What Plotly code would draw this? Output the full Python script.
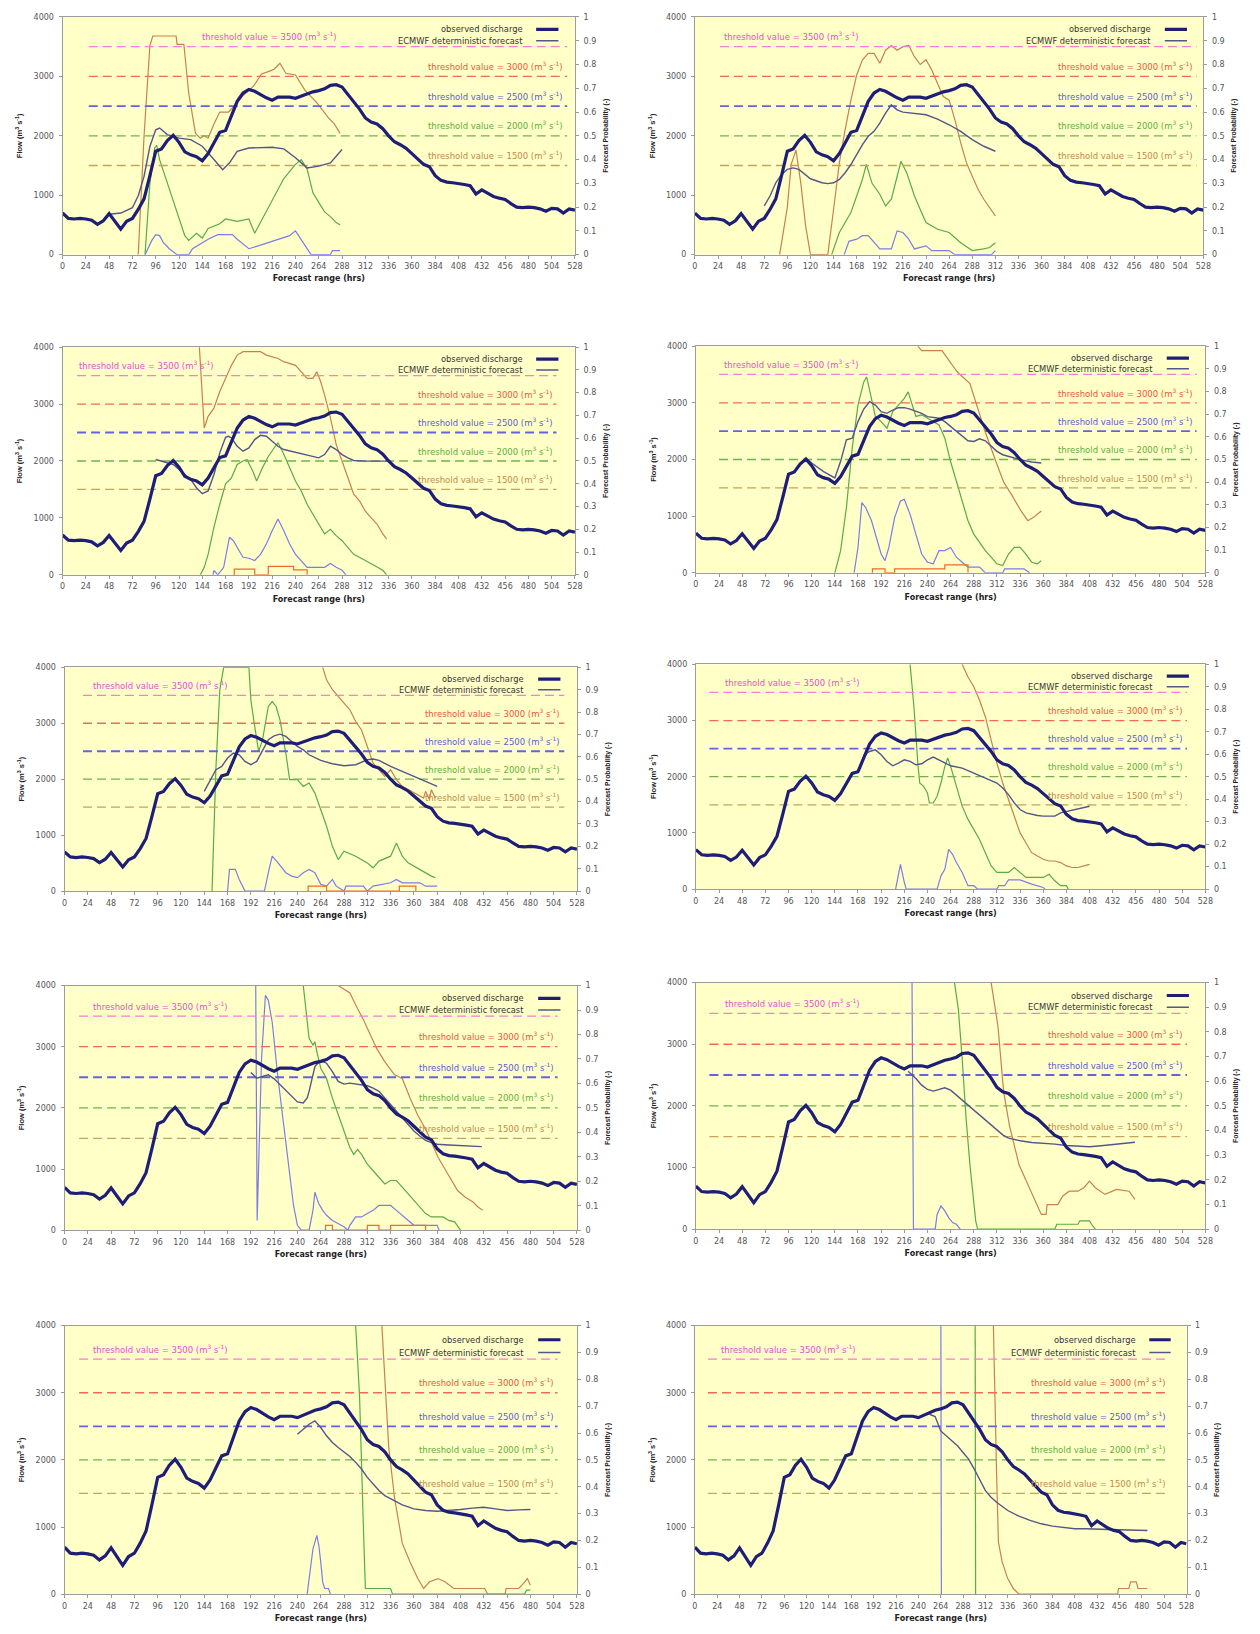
import plotly.graph_objects as go

W, H = 1260, 1634          # target page size
PAGE_MARGIN = 8            # default body margin of the html page
FW, FH = W - 2 * PAGE_MARGIN, H - 2 * PAGE_MARGIN
FONT = "DejaVu Sans, Verdana, sans-serif"
FONT_NARROW = "Liberation Sans, Arial, sans-serif"

# ---------------- axis ticks / thresholds ----------------
X_TICKS = [0, 24, 48, 72, 96, 120, 144, 168, 192, 216, 240, 264, 288, 312, 336,
           360, 384, 408, 432, 456, 480, 504, 528]
FLOW_TICKS = [0, 1000, 2000, 3000, 4000]
PROB_TICKS = [0, 0.1, 0.2, 0.3, 0.4, 0.5, 0.6, 0.7, 0.8, 0.9, 1.0]
PROB_TICK_TEXT = ["0", "0.1", "0.2", "0.3", "0.4", "0.5", "0.6", "0.7", "0.8", "0.9", "1"]
THRESHOLDS = [3500, 3000, 2500, 2000, 1500]

# ---------------- observed discharge (every 6 h) ----------------
OBS_T = [0, 6, 12, 18, 24, 30, 36, 42, 48, 54, 60, 66, 72, 78, 84, 90, 96, 102, 108, 114,
         120, 126, 132, 138, 144, 150, 156, 162, 168, 174, 180, 186, 192, 198, 204, 210,
         216, 222, 228, 234, 240, 246, 252, 258, 264, 270, 276, 282, 288, 294, 300, 306,
         312, 318, 324, 330, 336, 342, 348, 354, 360, 366, 372, 378, 384, 390, 396, 402,
         408, 414, 420, 426, 432, 438, 444, 450, 456, 462, 468, 474, 480, 486, 492, 498,
         504, 510, 516, 522, 528]
OBS_Q = [700, 610, 600, 610, 600, 580, 510, 570, 690, 560,
         430, 560, 610, 760, 940, 1330, 1740, 1780, 1920, 2010,
         1890, 1730, 1680, 1650, 1580, 1700, 1870, 2060, 2090, 2320,
         2580, 2720, 2780, 2750, 2690, 2640, 2600, 2650, 2650, 2650,
         2630, 2670, 2710, 2740, 2760, 2790, 2850, 2860, 2820, 2700,
         2560, 2450, 2300, 2230, 2200, 2120, 2000, 1900, 1850, 1790,
         1700, 1610, 1520, 1480, 1330, 1250, 1220, 1210, 1200, 1180,
         1160, 1020, 1090, 1030, 980, 950, 930, 860, 800, 790,
         800, 790, 770, 730, 780, 770, 700, 770, 750]

# ---------------- panel 1 ----------------
DET_T_1 = [48, 60, 72, 78, 84, 90, 96, 100, 108, 120, 132, 144, 156, 165, 172, 180, 192, 204, 216, 228, 240, 252, 264, 276, 282, 288]
DET_Q_1 = [680, 700, 790, 990, 1320, 1820, 2100, 2130, 2020, 1960, 1935, 1825, 1600, 1430, 1545, 1740, 1795, 1805, 1807, 1780, 1630, 1460, 1490, 1545, 1655, 1770]
P1500_T_1 = [78, 84, 90, 93, 117, 118, 125, 130, 137, 142, 146, 150, 156, 162, 171, 185, 197, 205, 212, 218, 224, 230, 240, 250, 262, 274, 280, 286]
P1500_1 = [0, 0.5, 0.88, 0.92, 0.92, 0.885, 0.885, 0.68, 0.51, 0.49, 0.5, 0.49, 0.55, 0.6, 0.6, 0.665, 0.71, 0.76, 0.77, 0.78, 0.805, 0.763, 0.756, 0.69, 0.64, 0.575, 0.55, 0.51]
P2000_T_1 = [85, 90, 95, 97, 100, 108, 114, 120, 126, 130, 138, 144, 150, 162, 168, 180, 192, 198, 204, 216, 228, 240, 246, 252, 258, 264, 270, 276, 282, 286]
P2000_1 = [0, 0.3, 0.45, 0.46, 0.4, 0.3, 0.22, 0.15, 0.08, 0.06, 0.09, 0.07, 0.11, 0.13, 0.15, 0.14, 0.15, 0.09, 0.135, 0.23, 0.32, 0.38, 0.4, 0.36, 0.26, 0.22, 0.18, 0.16, 0.135, 0.125]
P2500_T_1 = [85, 92, 96, 100, 104, 110, 118, 130, 134, 140, 150, 160, 175, 180, 192, 204, 216, 228, 234, 240, 246, 252, 256, 276, 278, 286]
P2500_1 = [0, 0.06, 0.084, 0.08, 0.05, 0.025, 0, 0, 0.025, 0.04, 0.065, 0.084, 0.084, 0.065, 0.025, 0.04, 0.056, 0.073, 0.08, 0.1, 0.065, 0.025, 0, 0, 0.017, 0.017]
P3000_T_1 = []
P3000_1 = []

# ---------------- panel 2 ----------------
DET_T_2 = [72, 78, 84, 90, 96, 102, 108, 114, 120, 132, 138, 144, 150, 156, 162, 168, 174, 180, 186, 192, 198, 204, 210, 216, 228, 240, 252, 264, 276, 288, 300, 312]
DET_Q_2 = [820, 987, 1210, 1350, 1434, 1460, 1434, 1350, 1277, 1210, 1195, 1210, 1266, 1378, 1517, 1684, 1852, 1991, 2075, 2214, 2382, 2521, 2437, 2398, 2382, 2354, 2281, 2186, 2075, 1935, 1824, 1740]
P1500_T_2 = [88, 96, 100, 105, 110, 115, 120, 138, 144, 150, 156, 162, 168, 174, 180, 186, 192, 198, 204, 210, 216, 222, 228, 234, 240, 246, 252, 258, 264, 270, 276, 282, 288, 294, 300, 306, 312]
P1500_2 = [0, 0.2, 0.38, 0.44, 0.3, 0.12, 0, 0, 0.19, 0.386, 0.526, 0.65, 0.756, 0.82, 0.847, 0.847, 0.805, 0.86, 0.88, 0.86, 0.875, 0.88, 0.833, 0.8, 0.82, 0.777, 0.72, 0.665, 0.65, 0.567, 0.47, 0.386, 0.33, 0.275, 0.233, 0.198, 0.163]
P2000_T_2 = [142, 150, 156, 162, 168, 174, 178, 184, 192, 198, 204, 210, 214, 220, 228, 234, 240, 252, 264, 276, 288, 300, 306, 312]
P2000_2 = [0, 0.093, 0.135, 0.177, 0.247, 0.317, 0.38, 0.3, 0.254, 0.205, 0.233, 0.33, 0.393, 0.344, 0.247, 0.19, 0.135, 0.107, 0.093, 0.05, 0.017, 0.024, 0.03, 0.05]
P2500_T_2 = [155, 160, 168, 174, 180, 186, 192, 204, 210, 216, 222, 228, 240, 246, 264, 270, 308, 312]
P2500_2 = [0, 0.056, 0.065, 0.08, 0.08, 0.052, 0.024, 0.024, 0.1, 0.093, 0.065, 0.024, 0.037, 0.017, 0.017, 0, 0, 0.017]
P3000_T_2 = []
P3000_2 = []

# ---------------- panel 3 ----------------
DET_T_3 = [96, 102, 108, 114, 120, 126, 132, 138, 144, 150, 156, 162, 168, 171, 174, 180, 186, 192, 198, 204, 210, 216, 222, 228, 240, 252, 264, 270, 276, 282, 288, 294, 300, 312, 324, 336]
DET_Q_3 = [2026, 1997, 1968, 1939, 1851, 1764, 1677, 1531, 1426, 1473, 1764, 2143, 2416, 2434, 2405, 2259, 2172, 2230, 2376, 2451, 2434, 2346, 2259, 2201, 2154, 2113, 2055, 2113, 2259, 2201, 2113, 2055, 2009, 1997, 1997, 1997]
P1500_T_3 = [141, 146, 150, 156, 162, 168, 174, 180, 186, 204, 210, 222, 228, 240, 252, 258, 262, 266, 270, 276, 282, 288, 294, 300, 306, 312, 318, 324, 330, 334]
P1500_3 = [1.0, 0.645, 0.696, 0.732, 0.805, 0.863, 0.92, 0.965, 0.98, 0.98, 0.965, 0.95, 0.936, 0.92, 0.863, 0.863, 0.892, 0.848, 0.79, 0.69, 0.572, 0.5, 0.426, 0.354, 0.325, 0.28, 0.25, 0.223, 0.18, 0.157]
P2000_T_3 = [142, 146, 150, 156, 162, 168, 174, 180, 186, 190, 196, 200, 206, 212, 218, 222, 228, 234, 240, 246, 252, 258, 264, 270, 276, 282, 288, 294, 300, 312, 324, 330, 334]
P2000_3 = [0, 0.033, 0.09, 0.21, 0.31, 0.4, 0.426, 0.485, 0.5, 0.507, 0.456, 0.412, 0.47, 0.52, 0.557, 0.58, 0.53, 0.47, 0.412, 0.368, 0.31, 0.266, 0.223, 0.18, 0.2, 0.172, 0.15, 0.12, 0.09, 0.063, 0.033, 0.02, 0]
P2500_T_3 = [155, 156, 160, 166, 172, 176, 182, 186, 192, 198, 204, 210, 216, 222, 228, 234, 240, 246, 252, 270, 276, 282, 288, 292]
P2500_3 = [0, 0.02, 0, 0.033, 0.165, 0.15, 0.106, 0.077, 0.073, 0.063, 0.09, 0.135, 0.194, 0.245, 0.194, 0.135, 0.09, 0.063, 0.033, 0.033, 0.05, 0.033, 0.02, 0]
P3000_T_3 = [176, 177, 198, 212, 238, 252]
P3000_3 = [0, 0.025, 0, 0.037, 0.022, 0]

# ---------------- panel 4 ----------------
DET_T_4 = [114, 120, 132, 144, 150, 156, 162, 168, 174, 180, 186, 192, 198, 204, 210, 216, 222, 228, 234, 240, 252, 258, 264, 270, 276, 282, 288, 294, 300, 306, 312, 318, 324, 336, 348, 358]
DET_Q_4 = [2026, 1938, 1792, 1676, 1968, 2347, 2376, 2668, 2890, 3019, 2960, 2844, 2814, 2873, 2914, 2914, 2890, 2855, 2814, 2756, 2727, 2668, 2581, 2493, 2406, 2330, 2318, 2365, 2330, 2230, 2143, 2084, 2055, 1997, 1956, 1938]
P1500_T_4 = [230, 234, 255, 264, 271, 284, 290, 300, 311, 319, 327, 337, 344, 350, 358]
P1500_4 = [1.0, 0.98, 0.98, 0.93, 0.886, 0.835, 0.755, 0.62, 0.49, 0.4, 0.346, 0.273, 0.23, 0.245, 0.273]
P2000_T_4 = [144, 150, 156, 162, 168, 174, 177, 182, 186, 192, 198, 204, 210, 216, 220, 224, 228, 234, 240, 246, 252, 258, 264, 270, 276, 282, 288, 294, 300, 306, 312, 318, 324, 330, 336, 342, 348, 354, 358]
P2000_4 = [0, 0.098, 0.288, 0.55, 0.74, 0.842, 0.864, 0.77, 0.69, 0.667, 0.638, 0.711, 0.74, 0.77, 0.798, 0.74, 0.69, 0.697, 0.682, 0.667, 0.652, 0.594, 0.49, 0.404, 0.317, 0.23, 0.171, 0.134, 0.098, 0.069, 0.04, 0.032, 0.083, 0.112, 0.112, 0.083, 0.047, 0.04, 0.054]
P2500_T_4 = [164, 168, 172, 176, 182, 186, 192, 196, 200, 206, 212, 216, 222, 228, 234, 240, 246, 252, 258, 264, 270, 276, 282, 294, 300, 318, 320, 340, 346]
P2500_4 = [0, 0.112, 0.31, 0.288, 0.23, 0.171, 0.083, 0.054, 0.112, 0.244, 0.317, 0.324, 0.258, 0.171, 0.083, 0.047, 0.04, 0.098, 0.098, 0.112, 0.069, 0.047, 0.025, 0.025, 0, 0, 0.018, 0.018, 0]
P3000_T_4 = [182, 183, 196, 206, 258, 282]
P3000_4 = [0, 0.018, 0, 0.018, 0.035, 0]

# ---------------- panel 5 ----------------
DET_T_5 = [144, 150, 156, 162, 168, 174, 180, 186, 192, 198, 204, 210, 216, 222, 228, 234, 240, 246, 252, 264, 276, 288, 300, 312, 318, 324, 336, 348, 360, 372, 384]
DET_Q_5 = [1783, 1991, 2170, 2229, 2378, 2467, 2437, 2318, 2259, 2318, 2526, 2705, 2776, 2806, 2764, 2675, 2586, 2526, 2437, 2336, 2277, 2241, 2259, 2348, 2360, 2336, 2229, 2140, 2051, 1962, 1872]
P1500_T_5 = [266, 270, 276, 282, 288, 294, 300, 306, 312, 318, 324, 330, 336, 342, 348, 354, 360, 366, 370, 372, 376, 378, 382]
P1500_5 = [1.0, 0.944, 0.9, 0.87, 0.84, 0.81, 0.758, 0.72, 0.646, 0.572, 0.542, 0.513, 0.542, 0.498, 0.468, 0.453, 0.438, 0.424, 0.416, 0.446, 0.409, 0.453, 0.416]
P2000_T_5 = [152, 156, 160, 164, 190, 192, 196, 200, 204, 210, 214, 218, 222, 228, 232, 240, 246, 252, 258, 264, 270, 276, 282, 288, 300, 312, 318, 324, 336, 342, 348, 354, 360, 366, 372, 378, 382]
P2000_5 = [0, 0.55, 0.9, 1.0, 1.0, 0.854, 0.735, 0.624, 0.676, 0.825, 0.847, 0.825, 0.765, 0.617, 0.498, 0.498, 0.468, 0.483, 0.438, 0.364, 0.29, 0.2, 0.141, 0.178, 0.156, 0.126, 0.104, 0.134, 0.156, 0.215, 0.156, 0.126, 0.111, 0.097, 0.082, 0.067, 0.06]
P2500_T_5 = [168, 170, 176, 180, 186, 206, 210, 214, 220, 228, 234, 240, 246, 252, 258, 264, 270, 276, 280, 288, 290, 308, 312, 318, 336, 342, 348, 366, 372, 384]
P2500_5 = [0, 0.097, 0.097, 0.052, 0, 0, 0.082, 0.156, 0.126, 0.082, 0.067, 0.06, 0.082, 0.097, 0.082, 0.03, 0.022, 0.052, 0.022, 0, 0.022, 0.022, 0, 0.022, 0.037, 0.052, 0.037, 0.037, 0.022, 0.022]
P3000_T_5 = [250, 251, 270, 345, 362]
P3000_5 = [0, 0.022, 0, 0.022, 0]

# ---------------- panel 6 ----------------
DET_T_6 = [174, 180, 186, 192, 198, 204, 210, 216, 222, 228, 234, 240, 246, 252, 258, 264, 276, 288, 300, 312, 318, 324, 330, 336, 342, 348, 354, 360, 366, 372, 378, 390, 402, 408]
DET_Q_6 = [2390, 2449, 2478, 2390, 2272, 2195, 2242, 2301, 2272, 2213, 2230, 2301, 2349, 2301, 2242, 2195, 2154, 2065, 1977, 1888, 1800, 1682, 1534, 1416, 1357, 1328, 1310, 1298, 1298, 1298, 1357, 1404, 1446, 1475]
P1500_T_6 = [276, 282, 288, 294, 300, 306, 312, 318, 324, 330, 336, 342, 348, 354, 360, 366, 372, 378, 384, 390, 396, 402, 408]
P1500_6 = [1.0, 0.944, 0.9, 0.84, 0.767, 0.664, 0.56, 0.472, 0.398, 0.324, 0.25, 0.206, 0.162, 0.147, 0.133, 0.125, 0.125, 0.118, 0.103, 0.096, 0.096, 0.103, 0.11]
P2000_T_6 = [222, 226, 230, 232, 236, 240, 242, 246, 250, 254, 258, 261, 264, 270, 276, 282, 288, 294, 300, 306, 312, 324, 330, 336, 342, 360, 366, 372, 378, 384, 386]
P2000_6 = [1.0, 0.81, 0.56, 0.472, 0.457, 0.428, 0.383, 0.383, 0.413, 0.472, 0.546, 0.583, 0.546, 0.457, 0.369, 0.31, 0.265, 0.221, 0.162, 0.103, 0.074, 0.074, 0.096, 0.074, 0.052, 0.052, 0.066, 0.037, 0.015, 0.015, 0]
P2500_T_6 = [207, 210, 212, 216, 218, 250, 254, 258, 262, 266, 270, 276, 282, 288, 292, 312, 314, 320, 324, 336, 348, 360, 362]
P2500_6 = [0, 0.074, 0.11, 0.03, 0, 0, 0.059, 0.088, 0.177, 0.155, 0.118, 0.074, 0.015, 0.015, 0, 0, 0.015, 0.015, 0.041, 0.041, 0.022, 0.007, 0]
P3000_T_6 = []
P3000_6 = []

# ---------------- panel 7 ----------------
DET_T_7 = [192, 198, 204, 210, 216, 222, 228, 234, 240, 246, 250, 252, 256, 258, 262, 266, 270, 276, 282, 288, 294, 300, 306, 312, 318, 324, 330, 336, 342, 348, 354, 360, 366, 372, 378, 384, 396, 408, 420, 430]
DET_Q_7 = [2578, 2486, 2513, 2540, 2475, 2378, 2281, 2189, 2097, 2081, 2162, 2270, 2540, 2675, 2746, 2757, 2730, 2594, 2432, 2389, 2405, 2389, 2378, 2362, 2324, 2270, 2162, 2054, 1946, 1838, 1730, 1621, 1540, 1470, 1432, 1405, 1394, 1384, 1373, 1367]
P1500_T_7 = [282, 294, 302, 308, 322, 330, 340, 348, 356, 364, 373, 379, 385, 393, 405, 413, 421, 426, 431]
P1500_7 = [1.0, 0.97, 0.905, 0.86, 0.74, 0.689, 0.635, 0.62, 0.54, 0.47, 0.405, 0.35, 0.297, 0.243, 0.162, 0.135, 0.115, 0.095, 0.081]
P2000_T_7 = [246, 250, 252, 256, 258, 260, 264, 270, 276, 282, 288, 294, 298, 302, 306, 312, 318, 324, 330, 336, 342, 348, 354, 360, 366, 372, 378, 390, 396, 402, 408]
P2000_7 = [1.0, 0.838, 0.784, 0.757, 0.77, 0.73, 0.662, 0.62, 0.54, 0.473, 0.405, 0.338, 0.31, 0.33, 0.31, 0.27, 0.243, 0.216, 0.189, 0.203, 0.203, 0.176, 0.149, 0.122, 0.095, 0.068, 0.054, 0.054, 0.04, 0.034, 0]
P2500_T_7 = [197, 198.5, 203, 207, 210, 214, 220, 226, 232, 236, 240, 244, 252, 256, 258, 262, 266, 270, 276, 282, 288, 292, 294, 300, 306, 312, 318, 324, 336, 342, 348, 354, 360, 384, 386]
P2500_7 = [1.0, 0.04, 0.7, 0.96, 0.94, 0.85, 0.62, 0.42, 0.22, 0.1, 0.02, 0, 0, 0.081, 0.155, 0.108, 0.081, 0.061, 0.04, 0.027, 0.014, 0, 0.02, 0.054, 0.054, 0.068, 0.081, 0.101, 0.101, 0.081, 0.061, 0.04, 0.02, 0.02, 0]
P3000_T_7 = [268, 269, 276, 312, 324, 336, 372]
P3000_7 = [0, 0.02, 0, 0.02, 0, 0.02, 0]

# ---------------- panel 8 ----------------
DET_T_8 = [220, 228, 234, 240, 246, 252, 258, 264, 270, 276, 282, 288, 294, 300, 306, 312, 318, 324, 330, 336, 348, 360, 372, 384, 396, 408, 420, 432, 444, 455]
DET_Q_8 = [2560, 2443, 2336, 2266, 2239, 2271, 2293, 2255, 2174, 2094, 2013, 1933, 1852, 1772, 1691, 1611, 1530, 1476, 1450, 1434, 1407, 1396, 1380, 1358, 1342, 1337, 1353, 1369, 1396, 1410]
P1500_T_8 = [306, 313, 319, 325, 335, 350, 358, 363, 364, 375, 380, 387, 396, 402, 408, 414, 424, 436, 449, 455]
P1500_8 = [1.0, 0.825, 0.557, 0.42, 0.26, 0.127, 0.06, 0.06, 0.1, 0.1, 0.134, 0.154, 0.154, 0.168, 0.195, 0.168, 0.141, 0.161, 0.154, 0.121]
P2000_T_8 = [268, 272, 276, 280, 284, 288, 290, 292, 372, 374, 396, 398, 408, 410, 414]
P2000_8 = [1.0, 0.893, 0.691, 0.45, 0.262, 0.1, 0.034, 0, 0, 0.02, 0.02, 0.034, 0.034, 0.02, 0]
P2500_T_8 = [224, 225.5, 248, 250, 254, 258, 262, 266, 270, 274]
P2500_8 = [1.0, 0, 0, 0.06, 0.094, 0.074, 0.047, 0.027, 0.02, 0]
P3000_T_8 = []
P3000_8 = []

# ---------------- panel 9 ----------------
DET_T_9 = [240, 246, 252, 258, 264, 270, 276, 282, 288, 294, 300, 306, 312, 318, 324, 330, 336, 342, 348, 360, 372, 384, 396, 408, 420, 432, 444, 456, 468, 480]
DET_Q_9 = [2383, 2457, 2531, 2581, 2482, 2359, 2259, 2185, 2121, 2051, 1963, 1864, 1740, 1641, 1543, 1468, 1419, 1369, 1330, 1271, 1246, 1236, 1246, 1261, 1281, 1295, 1271, 1246, 1256, 1261]
P1500_T_9 = [327, 334, 340, 348, 356, 364, 370, 376, 385, 392, 401, 433, 436, 454, 455, 468, 473, 477, 480]
P1500_9 = [1.0, 0.55, 0.36, 0.19, 0.12, 0.058, 0.021, 0.046, 0.058, 0.046, 0.021, 0.021, 0, 0, 0.021, 0.021, 0.04, 0.058, 0.033]
P2000_T_9 = [300, 304, 308, 310, 312, 336, 338, 474, 476, 480]
P2000_9 = [1.0, 0.738, 0.244, 0.021, 0.021, 0.021, 0, 0, 0.015, 0.015]
P2500_T_9 = [250, 254, 256, 260, 262, 264, 266, 268, 272, 274]
P2500_9 = [0, 0.12, 0.169, 0.219, 0.182, 0.12, 0.046, 0.021, 0.021, 0]
P3000_T_9 = []
P3000_9 = []

# ---------------- panel 10 ----------------
DET_T_10 = [252, 258, 264, 270, 276, 282, 288, 294, 300, 306, 312, 318, 324, 336, 348, 360, 372, 384, 396, 408, 420, 432, 444, 456, 468, 480, 486]
DET_Q_10 = [2680, 2645, 2432, 2358, 2284, 2210, 2111, 2012, 1864, 1691, 1542, 1444, 1369, 1246, 1162, 1098, 1048, 1014, 989, 974, 974, 974, 964, 959, 959, 954, 949]
P1500_T_10 = [320.6, 322, 324, 326, 330, 336, 342, 348, 454, 455, 466, 468, 474, 476, 486]
P1500_10 = [1.0, 0.75, 0.45, 0.194, 0.12, 0.058, 0.021, 0, 0, 0.021, 0.021, 0.046, 0.046, 0.021, 0.021]
P2000_T_10 = [301, 301.5]
P2000_10 = [1.0, 0]
P2500_T_10 = [264.2, 264.7]
P2500_10 = [1.0, 0]
P3000_T_10 = []
P3000_10 = []

DET_T = [DET_T_1, DET_T_2, DET_T_3, DET_T_4, DET_T_5, DET_T_6, DET_T_7, DET_T_8, DET_T_9, DET_T_10]
DET_Q = [DET_Q_1, DET_Q_2, DET_Q_3, DET_Q_4, DET_Q_5, DET_Q_6, DET_Q_7, DET_Q_8, DET_Q_9, DET_Q_10]
P1500_T = [P1500_T_1, P1500_T_2, P1500_T_3, P1500_T_4, P1500_T_5, P1500_T_6, P1500_T_7, P1500_T_8, P1500_T_9, P1500_T_10]
P1500 = [P1500_1, P1500_2, P1500_3, P1500_4, P1500_5, P1500_6, P1500_7, P1500_8, P1500_9, P1500_10]
P2000_T = [P2000_T_1, P2000_T_2, P2000_T_3, P2000_T_4, P2000_T_5, P2000_T_6, P2000_T_7, P2000_T_8, P2000_T_9, P2000_T_10]
P2000 = [P2000_1, P2000_2, P2000_3, P2000_4, P2000_5, P2000_6, P2000_7, P2000_8, P2000_9, P2000_10]
P2500_T = [P2500_T_1, P2500_T_2, P2500_T_3, P2500_T_4, P2500_T_5, P2500_T_6, P2500_T_7, P2500_T_8, P2500_T_9, P2500_T_10]
P2500 = [P2500_1, P2500_2, P2500_3, P2500_4, P2500_5, P2500_6, P2500_7, P2500_8, P2500_9, P2500_10]
P3000_T = [P3000_T_1, P3000_T_2, P3000_T_3, P3000_T_4, P3000_T_5, P3000_T_6, P3000_T_7, P3000_T_8, P3000_T_9, P3000_T_10]
P3000 = [P3000_1, P3000_2, P3000_3, P3000_4, P3000_5, P3000_6, P3000_7, P3000_8, P3000_9, P3000_10]

# ---------------- layout (positions / styles) ----------------
PANEL_PX = [(60, 577, 13, 252), (698, 1211, 13, 252),
            (60, 577, 345, 574), (699, 1213, 344, 572),
            (62, 579, 667, 892), (699, 1213, 664, 890),
            (62, 579, 987, 1233), (699, 1213, 984, 1232),
            (62, 579, 1329, 1599), (698, 1194, 1329, 1599)]
THR_X0 = [27, 26, 15, 24, 19, 14, 15, 14, 15, 14]
THR_X1 = [520, 521, 509, 519, 515, 509, 508, 509, 508, 510]
LBL3500_X = [213, 28, 15, 27, 27, 28, 27, 28, 27, 26]
LBL3500_ANCHOR = ["center", "left", "left", "left", "left", "left", "left", "left", "left", "left"]

THR_LINE_COLORS = ["#F27ED6", "#F26A55", "#6464DA", "#6FB24E", "#C4A45A"]
THR_TEXT_COLORS = ["#E651C8", "#F2553A", "#5B5BD6", "#5FAE3C", "#C08A48"]
THR_WIDTHS = [1.2, 1.3, 1.9, 1.3, 1.3]
PROB_COLORS = ["#C9804F", "#5AAA46", "#7C7CE8", "#F06A2A"]
OBS_COLOR = "#1E1E78"
DET_COLOR = "#55558C"
BG = "#FFFFC8"
AXIS_LINE = "#9C9C9C"

fig = go.Figure()
layout = dict(width=FW, height=FH, margin=dict(l=0, r=0, t=0, b=0),
              paper_bgcolor="white", plot_bgcolor=BG, showlegend=False,
              font=dict(family=FONT))
annotations = []
shapes = []

for i, (l, r, t, b) in enumerate(PANEL_PX):
    k = i + 1
    xr, yp, yq = f"x{k}", f"y{k}", f"y{k + 10}"

    # probability curves (base axis, right side)
    prob_sets = [(P1500_T[i], P1500[i], PROB_COLORS[0], "linear"),
                 (P2000_T[i], P2000[i], PROB_COLORS[1], "linear"),
                 (P2500_T[i], P2500[i], PROB_COLORS[2], "linear"),
                 (P3000_T[i], P3000[i], PROB_COLORS[3], "hv")]
    for tt, vv, col, shp in prob_sets:
        if len(tt) == 0:
            continue
        fig.add_trace(go.Scatter(x=tt, y=vv, xaxis=xr, yaxis=yp, mode="lines",
                                 line=dict(color=col, width=1.2, shape=shp),
                                 hoverinfo="skip"))

    # threshold lines (flow axis)
    for j, thr in enumerate(THRESHOLDS):
        fig.add_trace(go.Scatter(x=[THR_X0[i], THR_X1[i]], y=[thr, thr], xaxis=xr, yaxis=yq,
                                 mode="lines",
                                 line=dict(color=THR_LINE_COLORS[j], width=THR_WIDTHS[j], dash="9px,5px"),
                                 hoverinfo="skip"))
        txt = f"threshold value = {thr} (m<sup>3</sup> s<sup>-1</sup>)"
        if j == 0:
            ax, anc = LBL3500_X[i], LBL3500_ANCHOR[i]
        else:
            ax, anc = THR_X1[i] - 2, "right"
        annotations.append(dict(x=ax, y=thr + 40, xref=xr, yref=yq, text=txt, showarrow=False,
                                xanchor=anc, yanchor="bottom",
                                font=dict(size=8.5, color=THR_TEXT_COLORS[j], family=FONT)))

    # deterministic forecast and observed discharge
    fig.add_trace(go.Scatter(x=DET_T[i], y=DET_Q[i], xaxis=xr, yaxis=yq, mode="lines",
                             line=dict(color=DET_COLOR, width=1.4), hoverinfo="skip"))
    fig.add_trace(go.Scatter(x=OBS_T, y=OBS_Q, xaxis=xr, yaxis=yq, mode="lines",
                             line=dict(color=OBS_COLOR, width=3.2), hoverinfo="skip"))

    # legend (text left of key)
    for lbl, yy, col, wd in [("observed discharge", 3790, OBS_COLOR, 3.2),
                             ("ECMWF deterministic forecast", 3600, DET_COLOR, 1.5)]:
        annotations.append(dict(x=476, y=yy, xref=xr, yref=yq, text=lbl, showarrow=False,
                                xanchor="right", yanchor="middle",
                                font=dict(size=8.3, color="#333333", family=FONT)))
        shapes.append(dict(type="line", xref=xr, yref=yq, x0=488, x1=511, y0=yy, y1=yy,
                           line=dict(color=col, width=wd)))

    xd = [(l - PAGE_MARGIN) / FW, (r - PAGE_MARGIN) / FW]
    yd = [1 - (b - PAGE_MARGIN) / FH, 1 - (t - PAGE_MARGIN) / FH]
    tickfont = dict(size=8, color="#555555", family=FONT)
    xtitlefont = dict(size=8, color="#222222", family=FONT)
    flowtitlefont = dict(size=7.5, color="#222222", family=FONT_NARROW)
    probtitlefont = dict(size=6.8, color="#222222", family=FONT_NARROW)
    layout[f"xaxis{k}"] = dict(domain=xd, anchor=yp, range=[0, 528], tickvals=X_TICKS,
                               ticks="outside", ticklen=3, tickcolor="#999999",
                               showline=True, linecolor=AXIS_LINE, linewidth=1, mirror=True,
                               showgrid=False, zeroline=False, tickfont=tickfont,
                               ticklabelstandoff=1,
                               title=dict(text="<b>Forecast range (hrs)</b>", font=xtitlefont, standoff=5))
    layout[f"yaxis{k}"] = dict(domain=yd, anchor=xr, side="right", range=[0, 1],
                               tickvals=PROB_TICKS, ticktext=PROB_TICK_TEXT,
                               ticks="outside", ticklen=3, tickcolor="#999999",
                               showline=True, linecolor=AXIS_LINE, linewidth=1, mirror=True,
                               showgrid=False, zeroline=False, tickfont=tickfont,
                               ticklabelstandoff=3,
                               title=dict(text="<b>Forecast Probability (-)</b>", font=probtitlefont, standoff=7))
    layout[f"yaxis{k + 10}"] = dict(overlaying=yp, anchor=xr, side="left", range=[0, 4000],
                                    tickvals=FLOW_TICKS, ticks="outside", ticklen=3, tickcolor="#999999",
                                    showline=False, showgrid=False, zeroline=False, tickfont=tickfont,
                                    ticklabelstandoff=3,
                                    title=dict(text="<b>Flow (m<sup>3</sup> s<sup>-1</sup>)</b>",
                                               font=flowtitlefont, standoff=9))

layout["annotations"] = annotations
layout["shapes"] = shapes
fig.update_layout(**layout)
fig.write_html("out.html")
